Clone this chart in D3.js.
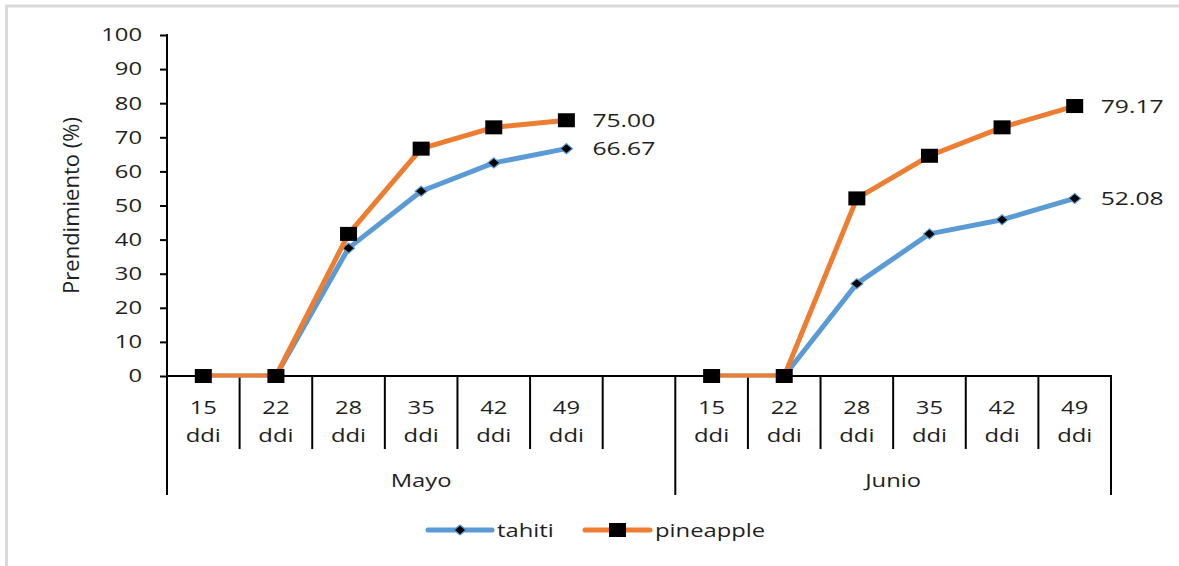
<!DOCTYPE html>
<html>
<head>
<meta charset="utf-8">
<script src="https://cdn.jsdelivr.net/npm/d3@7/dist/d3.min.js"></script>
<style>
  html, body { margin: 0; padding: 0; background: #fff; }
  svg { display: block; font-family: "Open Sans", "DejaVu Sans", sans-serif; }
</style>
</head>
<body>
<svg id="chart" width="1179" height="566"></svg>
<script>
// ---- data ----
const months = ["Mayo", "Junio"];
const days = ["15 ddi", "22 ddi", "28 ddi", "35 ddi", "42 ddi", "49 ddi"];
const seriesNames = ["tahiti", "pineapple"];
const tahitiMayo = [0, 0, 37.50, 54.17, 62.50, 66.67];
const pineappleMayo = [0, 0, 41.67, 66.67, 72.92, 75.00];
const tahitiJunio = [0, 0, 27.08, 41.67, 45.83, 52.08];
const pineappleJunio = [0, 0, 52.08, 64.58, 72.92, 79.17];
const yTicks = [0, 10, 20, 30, 40, 50, 60, 70, 80, 90, 100];
const yTitle = "Prendimiento (%)";

// ---- styling ----
const colors = { tahiti: "#5b9bd5", pineapple: "#ed7d31" };
const SX = 1.3;            // horizontal stretch applied to text
const textColor = "#1f1f1f";
const fs = 18.3;

const svg = d3.select("#chart");

// outer frame
svg.append("rect")
  .attr("x", 6.5).attr("y", 6).attr("width", 1250).attr("height", 650)
  .attr("fill", "none").attr("stroke", "#d9d9d9").attr("stroke-width", 3);

// category slots: each month's days, with an empty slot between months
const slots = [];
months.forEach((m, mi) => {
  days.forEach(d => slots.push({ month: m, day: d, key: m + "|" + d }));
  if (mi < months.length - 1) slots.push({ month: m, day: null, key: m + "|gap" });
});

const x = d3.scaleBand().domain(slots.map(s => s.key)).range([167, 1111]).padding(0);
const y = d3.scaleLinear().domain([0, 100]).range([376, 35]);
const cx = k => x(k) + x.bandwidth() / 2;

function stretchText(sel, tx, ty) {
  sel.attr("x", 0).attr("y", 0)
     .attr("transform", `translate(${tx},${ty}) scale(${SX},1)`);
  return sel;
}

// ---- y axis ----
const yAxis = d3.axisLeft(y).tickValues(yTicks).tickSize(7).tickSizeOuter(0);
const gy = svg.append("g").attr("transform", "translate(167,0)").call(yAxis);
gy.select(".domain").remove();
gy.selectAll(".tick line").attr("stroke", "#000").attr("stroke-width", 2);
gy.selectAll(".tick text")
  .attr("x", null)
  .attr("fill", textColor)
  .style("font-size", fs + "px")
  .style("font-family", "'Open Sans', sans-serif")
  .attr("transform", `translate(-25,0) scale(${SX},1)`);

// y axis line (extends through the category label area)
svg.append("line")
  .attr("x1", 167).attr("x2", 167).attr("y1", y(100) - 1).attr("y2", 495)
  .attr("stroke", "#000").attr("stroke-width", 2);

// y axis title
svg.append("text")
  .attr("transform", `translate(79,${(y(0) + y(100)) / 2}) rotate(-90)`)
  .attr("text-anchor", "middle")
  .attr("fill", textColor)
  .style("font-size", "22px")
  .text(yTitle);

// ---- x axis ----
svg.append("line")
  .attr("x1", 167).attr("x2", 1111).attr("y1", y(0)).attr("y2", y(0))
  .attr("stroke", "#000").attr("stroke-width", 2);

// slot boundaries
const groupStarts = new Set(months.map(m => m + "|" + days[0]));
slots.forEach((s, i) => {
  if (i === 0) return;
  const bx = x(s.key);
  const long = groupStarts.has(s.key);
  svg.append("line")
    .attr("x1", bx).attr("x2", bx).attr("y1", y(0)).attr("y2", long ? 495 : 449)
    .attr("stroke", "#000").attr("stroke-width", 2);
});
// right end of the category axis
svg.append("line")
  .attr("x1", 1111).attr("x2", 1111).attr("y1", y(0) - 1).attr("y2", 495)
  .attr("stroke", "#000").attr("stroke-width", 2);

// category labels (two lines)
slots.filter(s => s.day).forEach(s => {
  const parts = s.day.split(" ");
  parts.forEach((p, j) => {
    stretchText(svg.append("text"), cx(s.key), 414 + j * 28)
      .attr("text-anchor", "middle")
      .attr("fill", textColor)
      .style("font-size", fs + "px")
      .text(p);
  });
});

// month labels
months.forEach((m, mi) => {
  const start = x(m + "|" + days[0]);
  const end = mi < months.length - 1 ? x(months[mi + 1] + "|" + days[0]) : 1111;
  stretchText(svg.append("text"), (start + end) / 2, 487)
    .attr("text-anchor", "middle")
    .attr("fill", textColor)
    .style("font-size", fs + "px")
    .text(m);
});

// ---- series ----
const series = [
  { name: "tahiti", month: "Mayo", values: tahitiMayo },
  { name: "tahiti", month: "Junio", values: tahitiJunio },
  { name: "pineapple", month: "Mayo", values: pineappleMayo },
  { name: "pineapple", month: "Junio", values: pineappleJunio }
];

svg.append("defs").append("clipPath").attr("id", "plotClip")
  .append("rect").attr("x", 160).attr("y", 0).attr("width", 1000).attr("height", y(0) + 1.5);

const line = d3.line().x(d => cx(d.key)).y(d => y(d.v));

function diamond(g, px, py) {
  g.append("path")
    .attr("d", `M${px - 6},${py} L${px},${py - 5} L${px + 6},${py} L${px},${py + 5} Z`)
    .attr("fill", "#000").attr("stroke", colors.tahiti).attr("stroke-width", 1.2);
}
function square(g, px, py) {
  g.append("rect")
    .attr("x", px - 8.5).attr("y", py - 7).attr("width", 17).attr("height", 14)
    .attr("fill", "#000");
}

seriesNames.forEach(name => {
  series.filter(s => s.name === name).forEach(s => {
    const pts = s.values.map((v, i) => ({ key: s.month + "|" + days[i], v }));
    const g = svg.append("g");
    g.append("path")
      .attr("d", line(pts))
      .attr("clip-path", "url(#plotClip)")
      .attr("fill", "none")
      .attr("stroke", colors[name])
      .attr("stroke-width", 5)
      .attr("stroke-linejoin", "round");
    pts.forEach(p => {
      if (name === "tahiti") diamond(g, cx(p.key), y(p.v));
      else square(g, cx(p.key), y(p.v));
    });
    // value label at the last point
    const last = pts[pts.length - 1];
    stretchText(svg.append("text"), cx(last.key) + 26, y(last.v))
      .attr("dy", "0.36em")
      .attr("fill", textColor)
      .style("font-size", "19px")
      .text(d3.format(".2f")(last.v));
  });
});

// ---- legend ----
const legendItems = [
  { name: "tahiti", x0: 428, x1: 492 },
  { name: "pineapple", x0: 585, x1: 650 }
];
const ly = 530;
legendItems.forEach(it => {
  svg.append("line")
    .attr("x1", it.x0).attr("x2", it.x1).attr("y1", ly).attr("y2", ly)
    .attr("stroke", colors[it.name]).attr("stroke-width", 5)
    .attr("stroke-linecap", "round");
  const mx = (it.x0 + it.x1) / 2;
  if (it.name === "tahiti") diamond(svg, mx, ly);
  else square(svg, mx, ly);
  stretchText(svg.append("text"), it.x1 + 5, ly)
    .attr("dy", "0.36em")
    .attr("fill", textColor)
    .style("font-size", fs + "px")
    .text(it.name);
});
</script>
</body>
</html>
